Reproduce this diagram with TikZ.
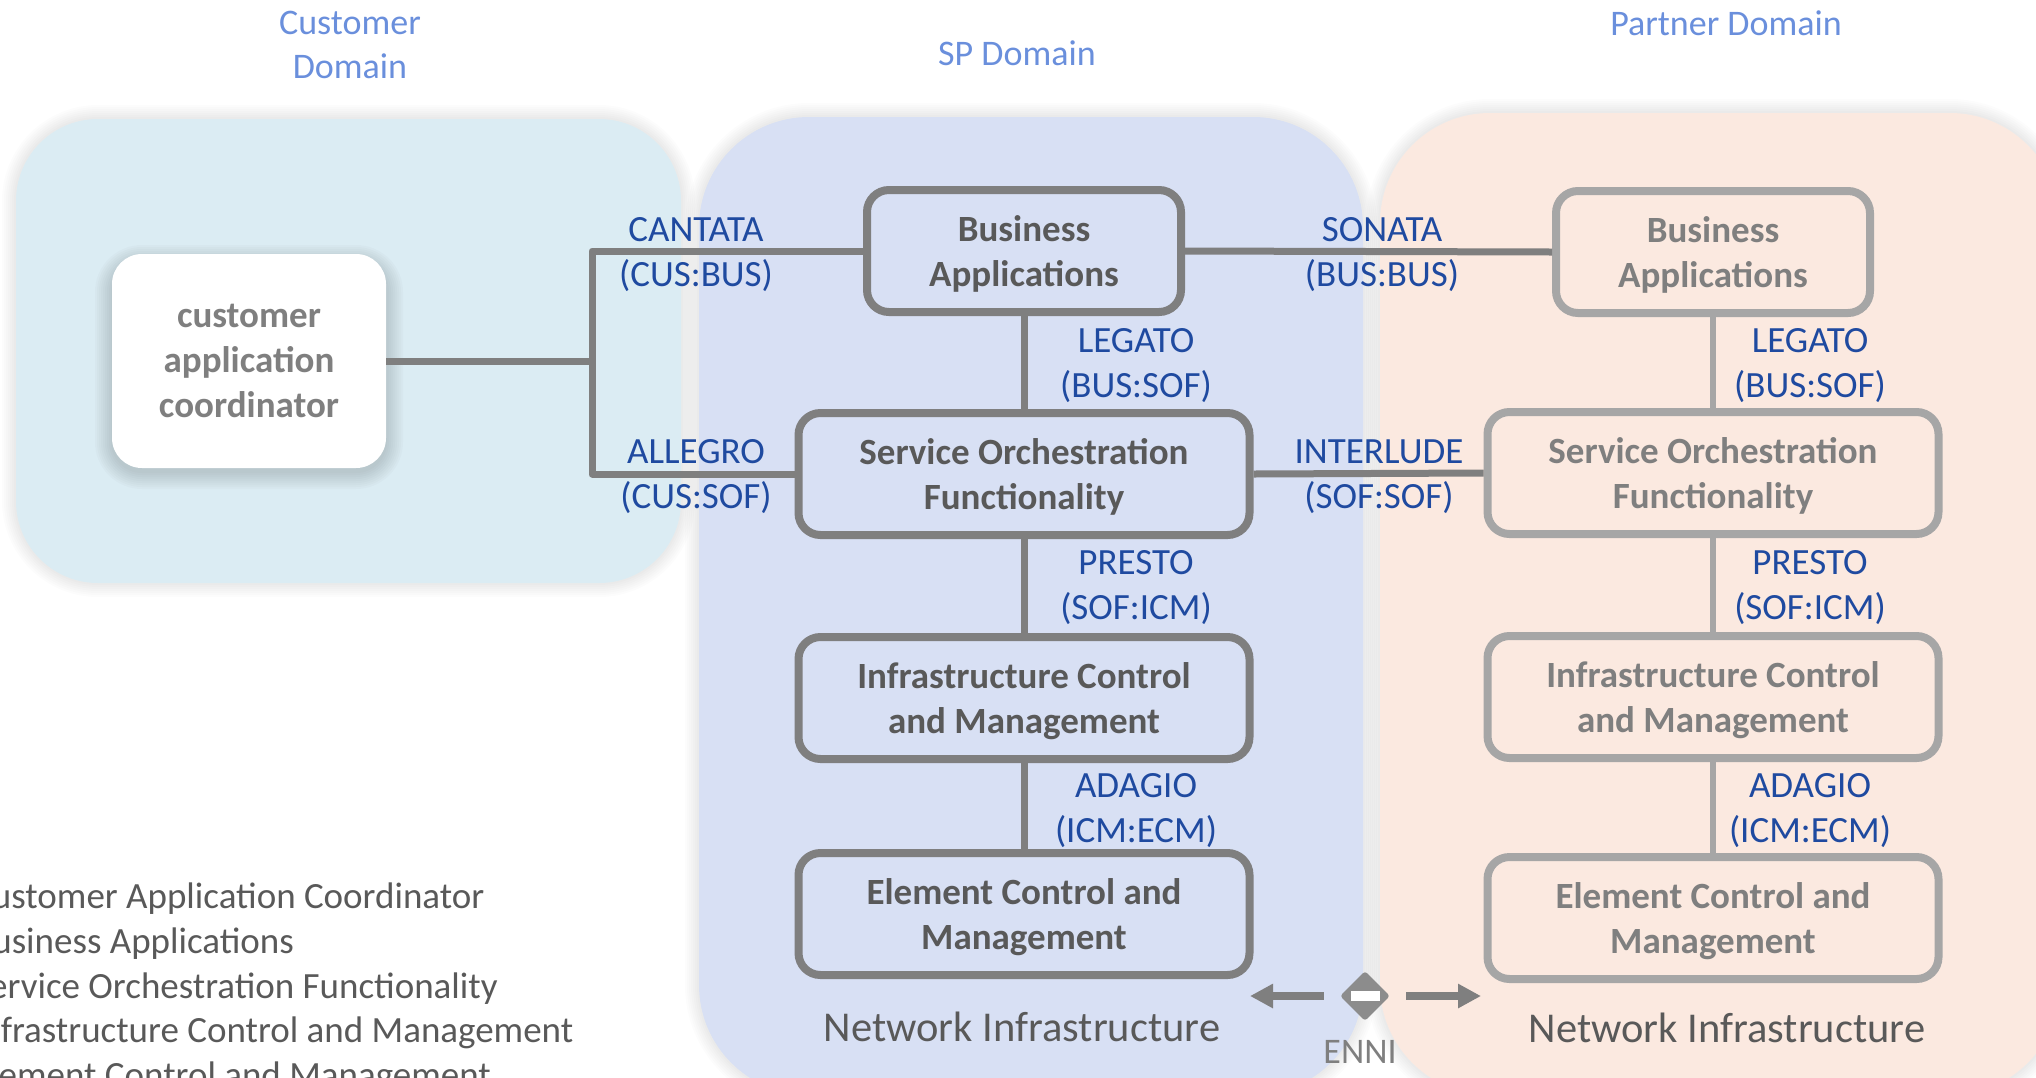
\documentclass[tikz,border=0pt]{standalone}
\usepackage{fontspec}
\setmainfont{Carlito}
\usepackage{tikz}
\usetikzlibrary{arrows.meta,shapes.geometric}
\definecolor{CustFill}{HTML}{DBECF3}
\definecolor{SpFill}{HTML}{D8E0F4}
\definecolor{PartFill}{HTML}{FBE9E0}
\definecolor{DomBlue}{HTML}{6A8FDC}
\definecolor{IfcBlue}{HTML}{1F4AA0}
\definecolor{SpGray}{HTML}{7F7F7F}
\definecolor{PartGray}{HTML}{A6A6A6}
\definecolor{TxtDark}{HTML}{595959}

\begin{document}
\begin{tikzpicture}[x=1pt,y=-1pt,
  dom/.style={text=DomBlue,align=center,font=\fontsize{36}{44.5}\selectfont},
  ifc/.style={text=IfcBlue,align=center,text depth=0pt,font=\fontsize{37}{45}\selectfont},
  spbox/.style={draw=SpGray,line width=8pt,rounded corners=22pt,text=TxtDark,align=center,text depth=0pt,inner sep=0pt,minimum height=122pt,font=\fontsize{37}{45}\selectfont\bfseries},
  pabox/.style={spbox,draw=PartGray,text=SpGray},
  spline/.style={draw=SpGray,line width=7pt},
  paline/.style={draw=PartGray,line width=6.5pt},
  netw/.style={text=TxtDark,font=\fontsize{42.5}{50}\selectfont},
  arr/.style={draw=SpGray,line width=8pt,-{Triangle[length=23pt,width=23pt]}}]
\useasboundingbox (0,0) rectangle (2036,1077);
\begin{scope}
\clip (0,0) rectangle (2036,1077);
% domains
\foreach \xa/\ya/\xb/\yb/\rad/\col in {1380/113/2060/1095/110/PartFill,699/117/1363/1095/110/SpFill,16/119/681/583/82/CustFill} {
   \foreach \g in {2,4,...,14} {
      \fill[black,opacity=0.012,rounded corners=\rad pt+\g pt] (\xa-\g,\ya-\g) rectangle (\xb+\g,\yb+\g);
   }
   \fill[\col,rounded corners=\rad pt] (\xa,\ya) rectangle (\xb,\yb);
}
\foreach \g in {1,3,...,17} {
   \fill[black!50!CustFill,opacity=0.035,rounded corners=30pt+\g pt] (112-\g,262-\g) rectangle (386+\g,472+\g);
}
\node[dom] (custdom) at (350,45) {Customer\\Domain};
\node[dom] (spdom) at (1017,53) {SP Domain};
\node[dom] (partdom) at (1726,23) {Partner Domain};
% customer side
\node[rectangle,fill=white,rounded corners=30pt,minimum width=274pt,minimum height=214pt,text=SpGray,align=center,text depth=0pt,inner sep=0pt,font=\fontsize{37}{45}\selectfont\bfseries] (cac) at (249,361) {customer\\application\\coordinator};
% the two columns
\foreach \nm/\ya/\yb/\ww/\txt in {ba/251/252/314/{Business\\Applications},sof/474/473/451/{Service Orchestration\\Functionality},icm/698/697/451/{Infrastructure Control\\and Management},ecm/914/918/451/{Element Control and\\Management}} {
   \node[spbox,minimum width=\ww pt] (\nm) at (1024,\ya) {\txt};
   \node[pabox,minimum width=\ww pt] (p\nm) at (1713,\yb) {\txt};
}
% connectors
\coordinate (jct) at (592,361);
\draw[spline] (cac) -- (jct);
\draw[spline,line join=round] (ba.west) -- (ba.west -| jct) -- (sof.west -| jct) -- (sof.west);
\draw[spline] (ba.east) -- (pba.west);
\draw[spline] (sof.east) -- (psof.west);
\foreach \a/\b in {ba/sof,sof/icm,icm/ecm} {
   \draw[spline] (\a) -- (\b);
   \draw[paline] (p\a) -- (p\b);
}
% interface labels
\node[ifc] (cantata) at (696,252) {CANTATA\\(CUS:BUS)};
\node[ifc] (allegro) at (696,474) {ALLEGRO\\(CUS:SOF)};
\node[ifc] (sonata) at (1382,252) {SONATA\\(BUS:BUS)};
\node[ifc] (interlude) at (1379,474) {INTERLUDE\\(SOF:SOF)};
\foreach \x/\1 in {1136/,1810/p} {
   \node[ifc] (\1legato) at (\x,363) {LEGATO\\(BUS:SOF)};
   \node[ifc] (\1presto) at (\x,585) {PRESTO\\(SOF:ICM)};
   \node[ifc] (\1adagio) at (\x,808) {ADAGIO\\(ICM:ECM)};
}
\node[netw] (netsp) at (1022,1027) {Network Infrastructure};
\node[netw] (netpa) at (1727,1028) {Network Infrastructure};
% enni
\node[diamond,fill=SpGray!90!white,rounded corners=3pt,minimum width=50pt,minimum height=50pt,inner sep=0pt] (enni) at (1365,996) {};
\node[rectangle,fill=white,minimum width=29pt,minimum height=10pt,inner sep=0pt] (ennibar) at (1365.5,995.5) {};
\coordinate (arrl) at (1250,996);
\coordinate (arrr) at (1481,996);
\draw[arr,shorten <=16pt] (enni.west) -- (arrl);
\draw[arr,shorten <=16pt] (enni.east) -- (arrr);
\node[text=SpGray,font=\fontsize{36}{40}\selectfont] (ennilab) at (1360,1052) {ENNI};
% legend
\node[anchor=north west,inner sep=0pt,align=left,text=TxtDark,font=\fontsize{37}{44.6}\selectfont] (legend) at (-28,883) {Customer Application Coordinator\\Business Applications\\Service Orchestration Functionality\\Infrastructure Control and Management\\Element Control and Management};
\end{scope}
\end{tikzpicture}
\end{document}
